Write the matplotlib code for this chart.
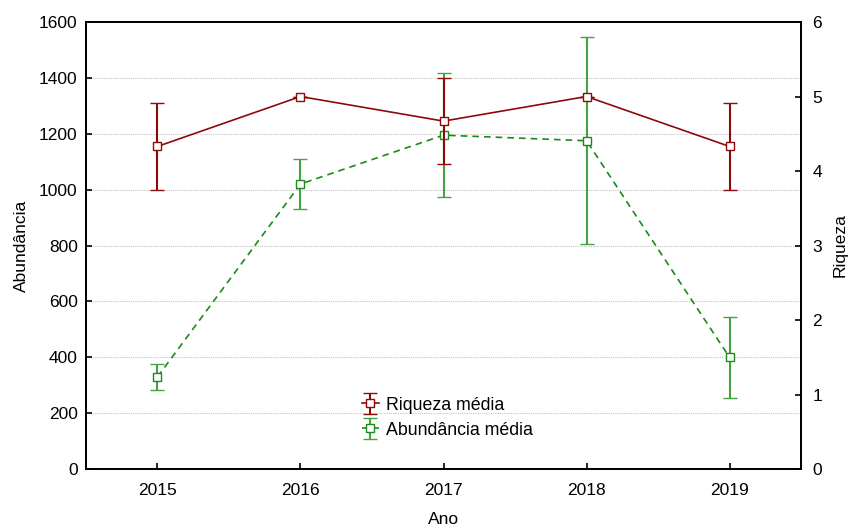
import numpy as np
import matplotlib.pyplot as plt
from matplotlib.legend_handler import HandlerErrorbar

plt.rcParams['font.family'] = ['Liberation Sans', 'DejaVu Sans']
plt.rcParams['font.size'] = 12.5

# dados por ano
anos = [2015, 2016, 2017, 2018, 2019]
abundancia = [330, 1020, 1195, 1175, 400]
abundancia_err = [47, 88, 222, 370, 145]
riqueza = [4.33, 5.0, 4.67, 5.0, 4.33]
riqueza_err = [0.58, 0.0, 0.58, 0.0, 0.58]

cor_riq = '#8c0a0a'
cor_abu = '#1a8a1a'
cor_abu_err = '#44a444'

fig = plt.figure(figsize=(8.48, 5.28), dpi=100)
ax = fig.add_axes([0.1014, 0.1117, 0.8432, 0.8466])
ax2 = ax.twinx()

# abundancia no eixo da esquerda
eb_abu = ax.errorbar(anos, abundancia, yerr=abundancia_err, color=cor_abu,
                     ecolor=cor_abu_err, elinewidth=1.5, capsize=5, capthick=1.5,
                     linestyle=(0, (4, 3)), linewidth=1.2, marker='s',
                     markersize=6, markerfacecolor='white',
                     markeredgecolor=cor_abu, markeredgewidth=1.0, zorder=3)

# riqueza no eixo da direita
eb_riq = ax2.errorbar(anos, riqueza, yerr=riqueza_err, color=cor_riq,
                      ecolor=cor_riq, elinewidth=1.5, capsize=5, capthick=1.5,
                      linestyle='-', linewidth=1.2, marker='s', markersize=6,
                      markerfacecolor='white', markeredgecolor=cor_riq,
                      markeredgewidth=1.0, zorder=3)

ax.set_xlim(2014.5, 2019.5)
ax.set_ylim(0, 1600)
ax2.set_ylim(0, 6)
ax.set_xticks(anos)
ax.set_yticks(np.arange(0, 1601, 200))
ax2.set_yticks(np.arange(0, 7, 1))

for y in range(200, 1600, 200):
    ax.axhline(y, color='#c4c4c4', linestyle=(0, (1, 1)), linewidth=0.8, zorder=0)

for a in (ax, ax2):
    a.tick_params(direction='in', length=4, width=1.2, labelsize=12.5)
    for s in a.spines.values():
        s.set_linewidth(1.3)
ax.tick_params(axis='x', pad=10)
ax.tick_params(axis='y', pad=6)
ax2.tick_params(axis='y', pad=8)

ax.set_xlabel('Ano', labelpad=10)
ax.set_ylabel('Abundância', labelpad=7)
ax2.set_ylabel('Riqueza', labelpad=8)

leg = ax2.legend([eb_riq, eb_abu], ['Riqueza média', 'Abundância média'],
                 loc='upper left', bbox_to_anchor=(0.368, 0.19), frameon=False,
                 handlelength=1.0, handletextpad=0.4, labelspacing=0.45,
                 fontsize=12.8, borderpad=0.2,
                 handler_map={type(eb_riq): HandlerErrorbar(xerr_size=0.0,
                                                            yerr_size=0.6)})

fig.savefig('out.png', dpi=100)
